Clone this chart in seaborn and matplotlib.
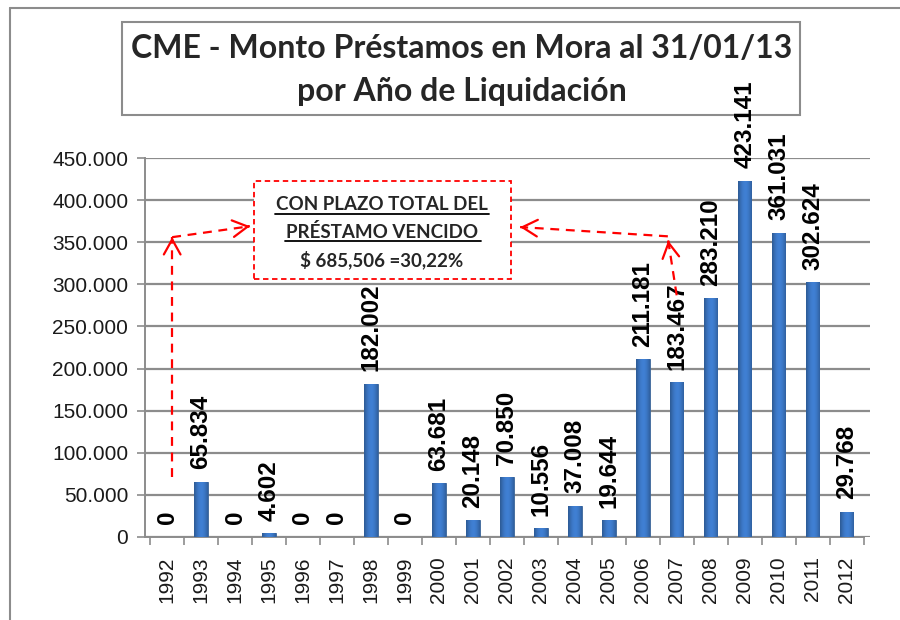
import numpy as np
import pandas as pd
import seaborn as sns
import matplotlib.pyplot as plt
from matplotlib.patches import Rectangle
from matplotlib.lines import Line2D
from matplotlib.ticker import FuncFormatter, FixedLocator

# data
years = [str(y) for y in range(1992, 2013)]
montos = [0, 65834, 0, 4602, 0, 0, 182002, 0, 63681, 20148, 70850,
          10556, 37008, 19644, 211181, 183467, 283210, 423141, 361031, 302624, 29768]
title_lines = ["CME - Monto Préstamos en Mora al 31/01/13", "por Año de Liquidación"]
note_lines = ["CON PLAZO TOTAL DEL", "PRÉSTAMO VENCIDO", "$ 685,506 =30,22%"]

df = pd.DataFrame({"anio": years, "monto": montos})

sns.set_theme(style="white")
plt.rcParams["font.family"] = ["Liberation Sans", "DejaVu Sans"]

fig = plt.figure(figsize=(9, 6.2), dpi=100)
W, H = 900, 620


def fx(px):
    return px / W


def fy(py):
    return 1 - py / H


ax = fig.add_axes([fx(145), fy(537), fx(870 - 145), (537 - 158) / H])
ax.patch.set_visible(False)

sns.barplot(data=df, x="anio", y="monto", color="#4F81BD", width=0.4,
            edgecolor="#3A6497", linewidth=0.6, saturation=1, ax=ax, zorder=3)

# cylinder-ish shading on each bar
grad = np.linspace(0, 1, 64)
shade = 0.55 + 0.45 * np.sin(np.pi * (grad * 0.85 + 0.05))
img = np.zeros((1, 64, 4))
img[..., 0] = 0.20 * shade + 0.05
img[..., 1] = 0.40 * shade + 0.10
img[..., 2] = 0.68 * shade + 0.15
img[..., 3] = 1
for p in ax.patches:
    if p.get_height() <= 0:
        continue
    x0, w, h = p.get_x(), p.get_width(), p.get_height()
    im = ax.imshow(img, extent=[x0, x0 + w, 0, h], aspect="auto", zorder=3.5,
                   interpolation="bicubic")
    im.set_clip_path(p)

ax.set_xlim(-0.65, 20.69)
ax.set_ylim(0, 450000)
ax.set_yticks(np.arange(0, 450001, 50000))
ax.yaxis.set_major_formatter(FuncFormatter(
    lambda v, _: "0" if v == 0 else f"{int(v):,}".replace(",", ".")))
ax.grid(axis="y", color="#8C8C8C", linewidth=1.6, zorder=0)
ax.set_xlabel("")
ax.set_ylabel("")

for s in ["top", "right"]:
    ax.spines[s].set_visible(False)
ax.spines["left"].set_color("#8C8C8C")
ax.spines["left"].set_linewidth(1.4)
ax.spines["bottom"].set_color("#8C8C8C")
ax.spines["bottom"].set_linewidth(1.4)
ax.spines["bottom"].set_bounds(-0.65, 20.5)

ax.tick_params(axis="y", which="major", left=True, length=6, width=1.2,
               color="#8C8C8C", labelsize=15, labelcolor="#1a1a1a", pad=6)
ax.tick_params(axis="x", which="major", bottom=False, labelsize=15,
               labelcolor="#1a1a1a", rotation=90, pad=8)
ax.xaxis.set_minor_locator(FixedLocator(np.arange(-0.5, 20.6, 1)))
ax.tick_params(axis="x", which="minor", bottom=True, length=6, width=1.2,
               color="#8C8C8C")

# value labels
for i, v in enumerate(montos):
    txt = f"{v:,}".replace(",", ".")
    ax.annotate(txt, (i, v), xytext=(0, 9), textcoords="offset points",
                rotation=90, ha="center", va="bottom", fontsize=17.5,
                fontweight="bold", color="black", zorder=6)

# red dashed annotation arrows
red = "#FF0000"


def dashed_arrow(p0, p1):
    ax.plot([p0[0], p1[0]], [p0[1], p1[1]], color=red, lw=1.6,
            linestyle=(0, (4, 3)), zorder=7, clip_on=False)
    d = np.array(p1) - np.array(p0)
    back = np.array(p1) - d * 0.02
    ax.annotate("", xy=p1, xytext=tuple(back),
                arrowprops=dict(arrowstyle="->,head_length=0.9,head_width=0.5",
                                color=red, lw=1.6, shrinkA=0, shrinkB=0),
                zorder=7, annotation_clip=False)


dashed_arrow((0.15, 71000), (0.15, 356000))
dashed_arrow((0.15, 356000), (2.44, 369000))
dashed_arrow((14.74, 357000), (10.39, 368000))
dashed_arrow((15.0, 287000), (14.75, 352000))

# annotation box
fig.add_artist(Rectangle((fx(254), fy(279)), fx(511 - 254), (279 - 181) / H,
                         transform=fig.transFigure, fill=True, facecolor="white",
                         edgecolor=red, lw=1.3, linestyle=(0, (3, 2)), zorder=8))
note_font = ["Lato", "DejaVu Sans"]
for txt, py in zip(note_lines, [205, 232, 260]):
    fig.text(fx(382), fy(py), txt, ha="center", va="center", fontsize=13.5,
             fontweight="bold", family=note_font, zorder=9)
fig.add_artist(Line2D([fx(275), fx(489)], [fy(214), fy(214)],
                      transform=fig.transFigure, color="black", lw=1.3, zorder=9))
fig.add_artist(Line2D([fx(285), fx(481)], [fy(241), fy(241)],
                      transform=fig.transFigure, color="black", lw=1.3, zorder=9))

# title box (drawn under the axes so the tallest label overlaps it)
fig.add_artist(Rectangle((fx(122), fy(115)), fx(800 - 122), (115 - 22) / H,
                         transform=fig.transFigure, fill=True, facecolor="white",
                         edgecolor="#8C8C8C", lw=1.5, zorder=-2))
for txt, py in zip(title_lines, [48, 92]):
    fig.text(fx(462), fy(py), txt, ha="center", va="center", fontsize=23,
             fontweight="bold", family=note_font, zorder=-1)

# outer chart border (left and top only visible)
fig.add_artist(Line2D([fx(10), fx(10)], [fy(8), 0], transform=fig.transFigure,
                      color="#8C8C8C", lw=1.5))
fig.add_artist(Line2D([fx(10), 1], [fy(8), fy(8)], transform=fig.transFigure,
                      color="#8C8C8C", lw=1.5))

fig.savefig("out.png", dpi=100)
